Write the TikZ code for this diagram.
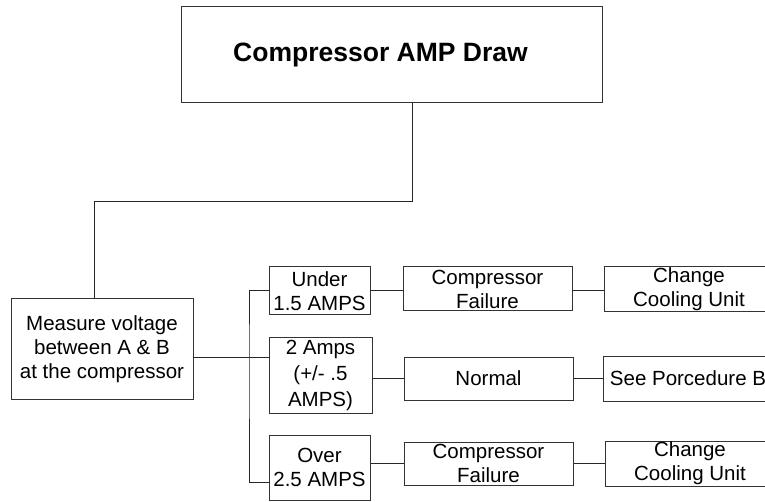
\documentclass[tikz,border=0pt]{standalone}
\usepackage{fontspec}
\setmainfont{Liberation Sans}
\usetikzlibrary{positioning}
\tikzset{every picture/.style={line width=1pt}}

\begin{document}
\begin{tikzpicture}[x=1pt,y=-1pt,node distance=31pt,
    box/.style={draw=black!80, inner sep=0pt, align=center, font=\fontsize{20.5}{24}\selectfont},
    wire/.style={draw=black!85}]
        \useasboundingbox (0,0) rectangle (765,502);
        \clip (0,0) rectangle (765,502);

        \node[box, minimum width=421pt, minimum height=96pt, font=\fontsize{26.5}{30}\selectfont\bfseries] (title) at (391.5,55) {Compressor AMP Draw\hspace*{22pt}};
        \node[box, minimum width=182pt, minimum height=100pt] (meas) at (102,349) {Measure voltage\\between A \& B\\at the compressor};
        \node[box, minimum width=101pt, minimum height=48pt] (under) at (319.5,291) {Under\\1.5 AMPS};
        \node[box, minimum width=103pt, minimum height=76pt, font=\fontsize{20.5}{26}\selectfont] (amps) at (320.5,375) {2 Amps\\(+/- .5\\AMPS)};
        \node[box, minimum width=101pt, minimum height=65pt] (over) at (319.5,467.5) {Over\\2.5 AMPS};
        \node[box, minimum width=169pt, minimum height=44pt, right=32pt of under, yshift=2pt] (fail1) {Compressor\\Failure};
        \node[box, minimum width=169pt, minimum height=43pt, right=31pt of amps, yshift=-3.5pt] (normal) {Normal};
        \node[box, minimum width=169pt, minimum height=43pt, right=33pt of over, yshift=4pt] (fail2) {Compressor\\Failure};
        \node[box, minimum width=170pt, minimum height=45pt, right=31pt of fail1] (chg1) {Change\\Cooling Unit};
        \node[box, minimum width=170pt, minimum height=45pt, right=29pt of normal] (see) {See Porcedure B};
        \node[box, minimum width=170pt, minimum height=45pt, right=31pt of fail2] (chg2) {Change\\Cooling Unit};

        \coordinate (k) at (412,202);
        \coordinate (j) at (249,357);

        \draw[wire]
            ([xshift=20.5pt]title.south) -- (k) -| ([xshift=-8pt]meas.north)
            ([yshift=-8pt]meas.east) -- (amps.west |- j)
            (under.west) -| (j) |- ([yshift=-14.5pt]over.west)
            (under.east) -- (under.east -| fail1.west)
            (under.east -| fail1.east) -- (under.east -| chg1.west)
            (normal.west -| amps.east) -- (normal.west)
            (normal.east) -- (normal.east -| see.west)
            (fail2.west -| over.east) -- (fail2.west)
            (fail2.east) -- (fail2.east -| chg2.west)
            ;
    \end{tikzpicture}
\end{document}
